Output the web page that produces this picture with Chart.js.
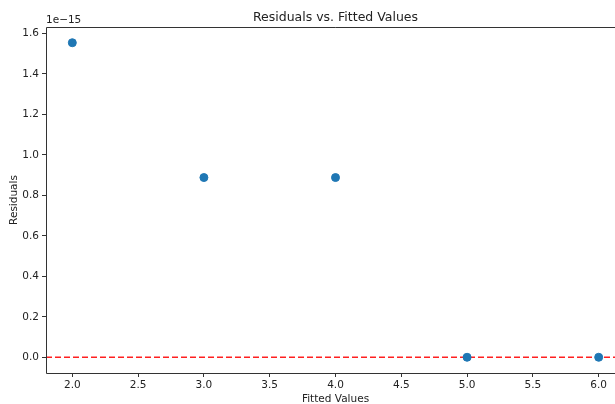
<!DOCTYPE html>
<html>
<head>
<meta charset="utf-8">
<script src="https://cdn.jsdelivr.net/npm/chart.js@4"></script>
<style>
  body { margin: 0; background: #fff; }
  #wrap { width: 615px; height: 404px; overflow: hidden; }
</style>
</head>
<body>
<div id="wrap"><canvas id="chart" width="640" height="404"></canvas></div>
<script>
// fitted values and residuals (residuals in units of 1e-15)
const fitted = [2.0, 3.0, 4.0, 5.0, 6.0];
const residuals = [1.554, 0.888, 0.888, 0.0, 0.0];
const xTicks = [2.0, 2.5, 3.0, 3.5, 4.0, 4.5, 5.0, 5.5, 6.0];
const yTicks = [0.0, 0.2, 0.4, 0.6, 0.8, 1.0, 1.2, 1.4, 1.6];

const font = "DejaVu Sans";

// frame, title, axis labels and offset text
const decorations = {
    id: 'decorations',
    afterDraw(chart) {
        const ctx = chart.ctx;
        const a = chart.chartArea;
        ctx.save();
        ctx.strokeStyle = '#333';
        ctx.lineWidth = 1;
        ctx.beginPath();
        ctx.moveTo(a.left + 0.5, a.bottom + 0.5);
        ctx.lineTo(a.left + 0.5, a.top + 0.5);
        ctx.lineTo(a.right, a.top + 0.5);
        ctx.moveTo(a.left + 0.5, a.bottom + 0.5);
        ctx.lineTo(a.right, a.bottom + 0.5);
        ctx.stroke();

        ctx.fillStyle = '#222';
        ctx.textAlign = 'center';
        ctx.textBaseline = 'alphabetic';
        ctx.font = '12.5px "' + font + '"';
        ctx.fillText('Residuals vs. Fitted Values', (a.left + a.right) / 2, 21);

        ctx.font = '10.5px "' + font + '"';
        ctx.fillText('Fitted Values', (a.left + a.right) / 2, 402);
        ctx.textAlign = 'left';
        ctx.fillText('1e\u221215', 46, 23);

        ctx.translate(17, (a.top + a.bottom) / 2);
        ctx.rotate(-Math.PI / 2);
        ctx.textAlign = 'center';
        ctx.fillText('Residuals', 0, 0);
        ctx.restore();
    }
};

new Chart(document.getElementById('chart'), {
    type: 'scatter',
    data: {
        datasets: [{
            label: 'Residuals',
            data: fitted.map((x, i) => ({ x: x, y: residuals[i] })),
            backgroundColor: '#1f77b4',
            borderColor: '#1f77b4',
            pointRadius: 4,
            pointHoverRadius: 4,
            order: 1
        }, {
            type: 'line',
            label: 'zero',
            data: [{ x: 1.8, y: 0 }, { x: 6.2, y: 0 }],
            borderColor: '#ff2020',
            borderWidth: 1.5,
            borderDash: [6, 3],
            pointRadius: 0,
            fill: false,
            order: 2
        }]
    },
    options: {
        responsive: false,
        animation: false,
        layout: { padding: { top: 27, right: 15, left: 0, bottom: 0 } },
        plugins: { legend: { display: false }, tooltip: { enabled: false } },
        scales: {
            x: {
                type: 'linear',
                min: 1.8,
                max: 6.2,
                afterFit: s => { s.height = 31; },
                afterBuildTicks: s => { s.ticks = xTicks.map(v => ({ value: v })); },
                grid: { drawOnChartArea: false, drawTicks: true, tickLength: 4, color: '#333' },
                border: { display: false },
                ticks: {
                    padding: 2,
                    color: '#222',
                    font: { family: font, size: 10.5 },
                    callback: v => v.toFixed(1)
                }
            },
            y: {
                type: 'linear',
                min: -0.0777,
                max: 1.6317,
                afterFit: s => { s.width = 46; },
                afterBuildTicks: s => { s.ticks = yTicks.map(v => ({ value: v })); },
                grid: { drawOnChartArea: false, drawTicks: true, tickLength: 4, color: '#333' },
                border: { display: false },
                ticks: {
                    padding: 3,
                    color: '#222',
                    font: { family: font, size: 10.5 },
                    callback: v => v.toFixed(1)
                }
            }
        }
    },
    plugins: [decorations]
});
</script>
</body>
</html>
